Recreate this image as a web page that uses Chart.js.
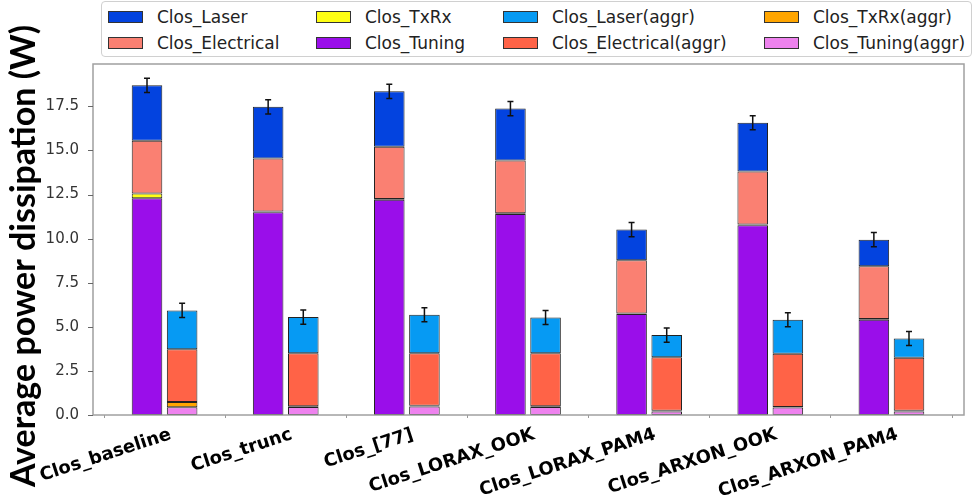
<!DOCTYPE html>
<html>
<head>
<meta charset="utf-8">
<script src="https://cdn.jsdelivr.net/npm/chart.js@4.4.0/dist/chart.umd.min.js"></script>
<style>
  body { margin: 0; background: #fff; }
  #wrap { position: relative; width: 975px; height: 500px; }
  #legend {
    position: absolute; left: 101px; top: 1px; width: 871px; height: 56px;
    border: 1px solid #d0d0d0; border-radius: 4px; box-sizing: border-box;
    font: 17px "DejaVu Sans"; color: #222; background: #fff;
  }
  .item { position: absolute; display: flex; align-items: center; height: 20px; white-space: nowrap; }
  .sw { width: 35px; height: 12px; border: 1px solid #333; box-sizing: border-box; margin-right: 14px; }
</style>
</head>
<body>
<div id="wrap">
  <canvas id="powerChart" width="975" height="500"></canvas>
  <div id="legend"></div>
</div>
<script>
// categories
const categories = ['Clos_baseline', 'Clos_trunc', 'Clos_[77]', 'Clos_LORAX_OOK', 'Clos_LORAX_PAM4', 'Clos_ARXON_OOK', 'Clos_ARXON_PAM4'];

// plain stack (W)
const tuning     = [12.29, 11.50, 12.20, 11.40, 5.72, 10.76, 5.40];
const txrx       = [0.27, 0.04, 0.04, 0.04, 0.04, 0.04, 0.04];
const electrical = [2.99, 3.00, 2.97, 2.99, 3.01, 3.00, 3.00];
const laser      = [3.14, 2.93, 3.14, 2.94, 1.74, 2.77, 1.50];

// aggregated stack (W)
const tuningAggr     = [0.44, 0.45, 0.48, 0.45, 0.20, 0.42, 0.20];
const txrxAggr       = [0.30, 0.04, 0.04, 0.04, 0.04, 0.04, 0.04];
const electricalAggr = [2.99, 3.01, 2.98, 3.01, 3.04, 3.01, 3.00];
const laserAggr      = [2.20, 2.05, 2.18, 2.03, 1.25, 1.93, 1.10];

// error bars on the totals
const errPlain = [0.40, 0.40, 0.40, 0.40, 0.40, 0.40, 0.40];
const errAggr  = [0.40, 0.40, 0.40, 0.40, 0.40, 0.40, 0.40];

const yTicks = [0, 2.5, 5, 7.5, 10, 12.5, 15, 17.5];
const yTitle = 'Average power dissipation (W)';

function ds(label, data, color, stack) {
    return {
        label: label, data: data, stack: stack,
        backgroundColor: color, borderColor: '#222', borderWidth: 1,
        borderSkipped: false
    };
}

const datasets = [
    ds('Clos_Tuning', tuning, '#9a0eea', 'plain'),
    ds('Clos_TxRx', txrx, '#ffff14', 'plain'),
    ds('Clos_Electrical', electrical, '#fa8072', 'plain'),
    ds('Clos_Laser', laser, '#0343df', 'plain'),
    ds('Clos_Tuning(aggr)', tuningAggr, '#ee82ee', 'aggr'),
    ds('Clos_TxRx(aggr)', txrxAggr, '#ffa500', 'aggr'),
    ds('Clos_Electrical(aggr)', electricalAggr, '#ff6347', 'aggr'),
    ds('Clos_Laser(aggr)', laserAggr, '#069af3', 'aggr')
];

// legend laid out like the figure: 4 columns x 2 rows
const legendOrder = [
    ['Clos_Laser', 'Clos_Electrical'],
    ['Clos_TxRx', 'Clos_Tuning'],
    ['Clos_Laser(aggr)', 'Clos_Electrical(aggr)'],
    ['Clos_TxRx(aggr)', 'Clos_Tuning(aggr)']
];
const colX = [6, 214, 401, 662];
const rowY = [5, 31];
const legendEl = document.getElementById('legend');
legendOrder.forEach((col, c) => {
    col.forEach((name, r) => {
        const d = datasets.find(x => x.label === name);
        const item = document.createElement('div');
        item.className = 'item';
        item.style.left = colX[c] + 'px';
        item.style.top = rowY[r] + 'px';
        item.innerHTML = '<span class="sw" style="background:' + d.backgroundColor + '"></span>' + name;
        legendEl.appendChild(item);
    });
});

// axes frame sits a little outside the category area, like matplotlib's margins
const frame = {
    id: 'frame',
    afterDraw(chart) {
        const a = chart.chartArea, ctx = chart.ctx, y = chart.scales.y;
        const left = a.left - 11, right = a.right + 12;
        ctx.save();
        ctx.strokeStyle = '#a0a0a0';
        ctx.lineWidth = 1.5;
        ctx.strokeRect(left, a.top, right - left, a.bottom - a.top);
        // y tick marks
        ctx.strokeStyle = '#666';
        ctx.lineWidth = 1;
        ctx.beginPath();
        yTicks.forEach(v => {
            const py = Math.round(y.getPixelForValue(v)) + 0.5;
            ctx.moveTo(left - 5, py); ctx.lineTo(left, py);
        });
        ctx.stroke();
        // y title
        ctx.fillStyle = '#000';
        ctx.font = 'bold 34px Lato';
        ctx.textAlign = 'center';
        ctx.textBaseline = 'middle';
        ctx.translate(24, 256);
        ctx.rotate(-Math.PI / 2);
        ctx.fillText(yTitle, 0, 0);
        ctx.restore();
    }
};

const errorBars = {
    id: 'errorBars',
    afterDatasetsDraw(chart) {
        const ctx = chart.ctx, y = chart.scales.y;
        const groups = [
            { top: 3, parts: [tuning, txrx, electrical, laser], err: errPlain },
            { top: 7, parts: [tuningAggr, txrxAggr, electricalAggr, laserAggr], err: errAggr }
        ];
        ctx.save();
        ctx.strokeStyle = '#111';
        ctx.lineWidth = 1.5;
        groups.forEach(g => {
            const meta = chart.getDatasetMeta(g.top);
            meta.data.forEach((bar, i) => {
                const total = g.parts.reduce((s, p) => s + p[i], 0);
                const y1 = y.getPixelForValue(total + g.err[i]);
                const y2 = y.getPixelForValue(total - g.err[i]);
                ctx.beginPath();
                ctx.moveTo(bar.x, y1); ctx.lineTo(bar.x, y2);
                ctx.moveTo(bar.x - 3, y1); ctx.lineTo(bar.x + 3, y1);
                ctx.moveTo(bar.x - 3, y2); ctx.lineTo(bar.x + 3, y2);
                ctx.stroke();
            });
        });
        ctx.restore();
    }
};

new Chart(document.getElementById('powerChart').getContext('2d'), {
    type: 'bar',
    data: { labels: categories, datasets: datasets },
    options: {
        responsive: false,
        animation: false,
        devicePixelRatio: 1,
        categoryPercentage: 0.58,
        barPercentage: 0.87,
        layout: { padding: { top: 64, right: 23, left: 0, bottom: 0 } },
        plugins: { legend: { display: false }, tooltip: { enabled: false } },
        scales: {
            x: {
                stacked: true,
                afterFit: s => { s.height = 85; },
                border: { display: false },
                grid: { display: true, drawOnChartArea: false, tickLength: 3, color: '#999' },
                ticks: {
                    autoSkip: false, maxRotation: 18, minRotation: 18, padding: 6, labelOffset: 6,
                    color: '#000',
                    font: { family: 'DejaVu Sans', size: 18, weight: 'bold' }
                }
            },
            y: {
                stacked: true,
                min: 0, max: 19.9,
                afterFit: s => { s.width = 104; },
                afterBuildTicks: s => { s.ticks = yTicks.map(v => ({ value: v })); },
                border: { display: false },
                grid: { display: false },
                ticks: {
                    color: '#333', padding: 17,
                    font: { family: 'DejaVu Sans', size: 15 },
                    callback: v => v.toFixed(1)
                }
            }
        }
    },
    plugins: [frame, errorBars]
});
</script>
</body>
</html>
